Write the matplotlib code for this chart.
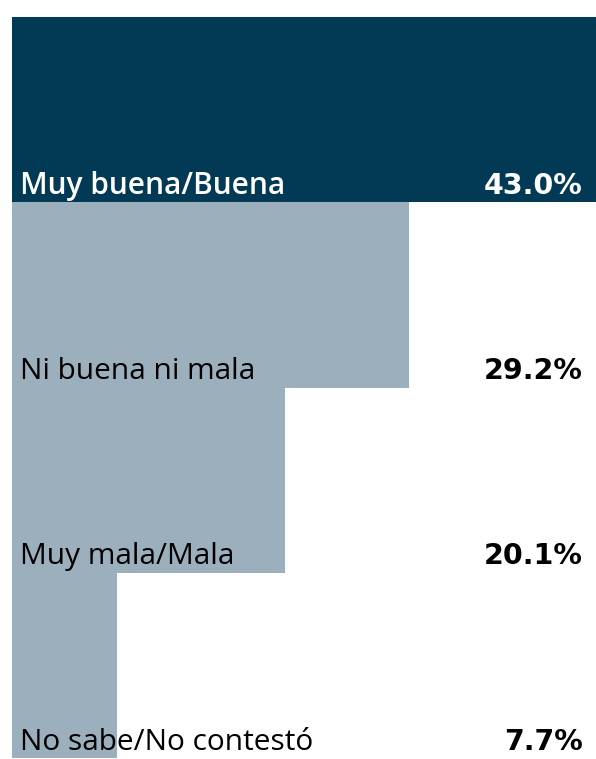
import matplotlib
matplotlib.use("Agg")
import matplotlib.pyplot as plt

categorias = ['Muy buena/Buena', 'Ni buena ni mala', 'Muy mala/Mala', 'No sabe/No contestó']
valores = [43.0, 29.2, 20.1, 7.7]
colores = ['#023a56', '#9bb0bc', '#9bb0bc', '#9bb0bc']
color_texto = ['white', 'black', 'black', 'black']

plt.rcParams['font.family'] = ['Open Sans', 'DejaVu Sans']

fig = plt.figure(figsize=(5.96, 7.59), dpi=100)
ax = fig.add_axes([12/596, 1/759, 584/596, 741/759])

pos = list(range(len(valores)))
ax.barh(pos, valores, height=1.0, color=colores, edgecolor='none')
ax.set_xlim(0, max(valores))
ax.set_ylim(len(valores) - 0.5, -0.5)
ax.axis('off')

for i, (cat, val) in enumerate(zip(categorias, valores)):
    peso = 'semibold' if i == 0 else 'normal'
    ax.text(0.59, i + 0.455, cat, fontsize=21.5, color=color_texto[i],
            fontweight=peso, va='baseline', ha='left')
    ax.text(42.0, i + 0.455, f'{val:.1f}%', fontsize=20.5, color=color_texto[i],
            fontweight='bold', family='DejaVu Sans', va='baseline', ha='right')

fig.savefig('out.png', dpi=100)
